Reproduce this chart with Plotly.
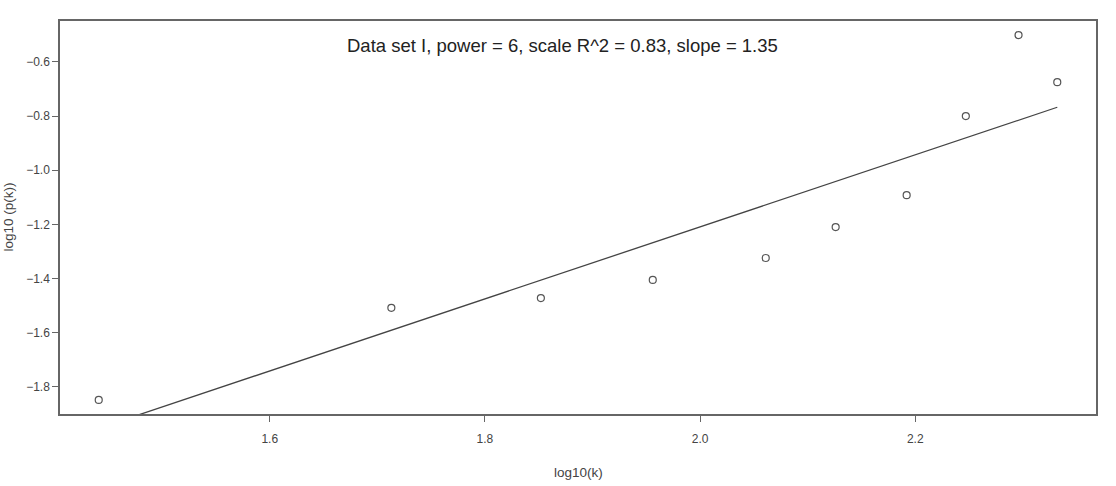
import plotly.graph_objects as go

# data
log_k = [1.441, 1.713, 1.852, 1.956, 2.061, 2.126, 2.192, 2.247, 2.296, 2.332]
log_pk = [-1.848, -1.508, -1.472, -1.405, -1.324, -1.210, -1.092, -0.800, -0.501, -0.675]
fit_intercept = -3.869
fit_slope = 1.33
x_ticks = [1.6, 1.8, 2.0, 2.2]
y_ticks = [-1.8, -1.6, -1.4, -1.2, -1.0, -0.8, -0.6]
title_text = "Data set I, power = 6, scale R^2 = 0.83, slope = 1.35"

fit_x = [min(log_k), max(log_k)]
fit_y = [fit_intercept + fit_slope * v for v in fit_x]

fig = go.Figure()
fig.add_trace(go.Scatter(x=fit_x, y=fit_y, mode="lines",
                         line=dict(color="#444444", width=1.3), showlegend=False))
fig.add_trace(go.Scatter(x=log_k, y=log_pk, mode="markers",
                         marker=dict(symbol="circle-open", size=7, color="#555555",
                                     line=dict(width=1.2, color="#555555")),
                         showlegend=False))

axis_common = dict(showgrid=False, zeroline=False, showline=True, mirror=True,
                   linecolor="#666666", linewidth=1.5, ticks="outside", ticklen=6,
                   tickcolor="#666666", tickwidth=1,
                   tickfont=dict(family="Liberation Sans, Arial", size=12, color="#444444"))

fig.update_layout(
    width=1116, height=486,
    margin=dict(l=60, r=20, t=21, b=72),
    paper_bgcolor="white", plot_bgcolor="white",
    xaxis=dict(range=[1.405, 2.368], tickvals=x_ticks, ticklabelstandoff=7,
               ticktext=[f"{v:.1f}" for v in x_ticks], **axis_common),
    yaxis=dict(range=[-1.90, -0.449], tickvals=y_ticks,
               ticktext=[f"\u2212{abs(v):.1f}" for v in y_ticks], **axis_common),
    annotations=[
        dict(text=title_text, xref="paper", yref="paper", x=0.5, y=1.0, yshift=-24,
             xshift=-16, showarrow=False, xanchor="center", yanchor="middle",
             font=dict(family="Liberation Sans, Arial", size=18.5, color="#222222")),
        dict(text="log10(k)", xref="paper", yref="paper", x=0.5, y=0, yshift=-58,
             showarrow=False, xanchor="center", yanchor="middle",
             font=dict(family="Liberation Sans, Arial", size=13.5, color="#444444")),
        dict(text="log10 (p(k))", xref="paper", yref="paper", x=0, y=0.5, xshift=-52,
             textangle=-90, showarrow=False, xanchor="center", yanchor="middle",
             font=dict(family="Liberation Sans, Arial", size=13.5, color="#444444")),
    ],
)

fig.write_html("out.html")
